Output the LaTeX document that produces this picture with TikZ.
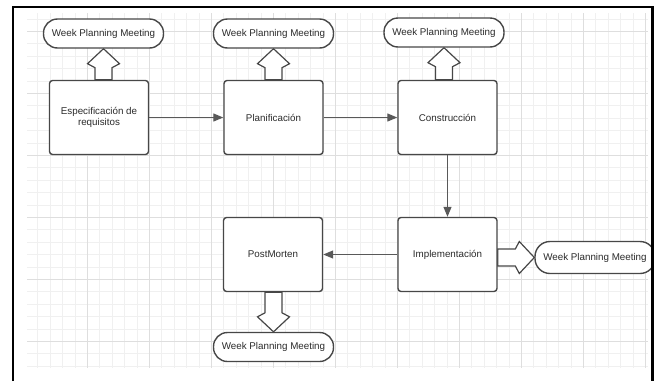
\documentclass[tikz,border=0pt]{standalone}
\usepackage{fontspec}
\setmainfont{Liberation Sans}
\usetikzlibrary{arrows.meta,backgrounds,calc}
\definecolor{boxline}{HTML}{474747}
\definecolor{ink}{HTML}{2B2B2B}
\definecolor{flowline}{HTML}{595959}
\definecolor{gridminor}{HTML}{F0F0F0}
\definecolor{gridmajor}{HTML}{DEDEDE}
\tikzset{
  % ---- phases ----------------------------------------------------
  phase/.style      = {rectangle, rounded corners=3pt, draw=boxline,
                       line width=1.4pt, fill=white, minimum width=99pt,
                       minimum height=74pt, inner sep=2pt, align=center,
                       text=ink, font=\fontsize{9.8}{11}\selectfont},
  meeting/.style    = {rectangle, rounded corners=14pt, draw=boxline,
                       line width=1.4pt, fill=white, minimum width=120pt,
                       minimum height=29pt, inner sep=0pt, text=ink,
                       font=\fontsize{9.8}{11}\selectfont},
  % ---- connectors ------------------------------------------------
  flow/.style       = {draw=flowline, line width=1.2pt,
                       -{Triangle[length=10pt,width=8pt]}},
  fat/.style        = {draw=boxline, line width=1.2pt, fill=white,
                       line join=miter},
  % ---- paper -----------------------------------------------------
  gminor/.style     = {draw=gridminor, line width=.7pt},
  gmajor/.style     = {draw=gridmajor, line width=.8pt},
  frame/.style      = {draw=black, line width=2.6pt, line join=miter},
}

\begin{document}
\begin{tikzpicture}[x=1pt,y=-1pt]
  \useasboundingbox (0,0) rectangle (654,381);
  \begin{scope}[on background layer]
    \clip (27,13) rectangle (648,368);
    \foreach \x in {37.7,50.1,...,648} \draw[gminor] (\x,13) -- (\x,368);
    \foreach \y in {18.9,31.3,...,368} \draw[gminor] (27,\y) -- (648,\y);
    \foreach \x in {87.3,149.3,...,648} \draw[gmajor] (\x,13) -- (\x,368);
    \foreach \y in {31.3,93.3,...,368} \draw[gmajor] (27,\y) -- (648,\y);
  \end{scope}
  \node[phase] (req) at (99,117.5) {Especificación de\\requisitos};
  \node[phase] (plan) at (273.5,117.5) {Planificación};
  \node[phase] (cons) at (447.5,117.5) {Construcción};
  \node[phase] (impl) at (447.5,254.5) {Implementación};
  \node[phase] (post) at (273,254.5) {PostMorten};
  \node[meeting] (wreq) at (103.5,33.5) {Week Planning Meeting};
  \node[meeting] (wplan) at (273.5,33.5) {Week Planning Meeting};
  \node[meeting] (wcons) at (444,32.5) {Week Planning Meeting};
  \node[meeting, minimum height=32pt, rounded corners=15pt] (wimpl) at (595,257.5) {Week Planning Meeting};
  \node[meeting] (wpost) at (273.5,347) {Week Planning Meeting};
  \draw[flow] (req) -- (plan);
  \draw[flow] (plan) -- (cons);
  \draw[flow] (cons) -- (impl);
  \draw[flow] (impl) -- (post);
  \begin{scope}[on background layer]
    \draw[fat] (wreq.south) -- ++(-16,15) -- ++(7.5,4) -- ($(req.north -| wreq.south)+(-8.5,0)$)
      -- ++(17,0) -- ($(wreq.south)+(8.5,19)$) -- ++(7.5,-4) -- cycle;
    \draw[fat] (wplan.south) -- ++(-16,15) -- ++(7.5,4) -- ($(plan.north -| wplan.south)+(-8.5,0)$)
      -- ++(17,0) -- ($(wplan.south)+(8.5,19)$) -- ++(7.5,-4) -- cycle;
    \draw[fat] (wcons.south) -- ++(-16,15) -- ++(7.5,4) -- ($(cons.north -| wcons.south)+(-8.5,0)$)
      -- ++(17,0) -- ($(wcons.south)+(8.5,19)$) -- ++(7.5,-4) -- cycle;
    \draw[fat] (wimpl.west) -- ++(-15,-16) -- ++(-4,7.5) -- ($(impl.east |- wimpl.west)+(0,-8.5)$)
      -- ++(0,17) -- ($(wimpl.west)+(-19,8.5)$) -- ++(4,7.5) -- cycle;
    \draw[fat] (wpost.north) -- ++(-16,-15) -- ++(7.5,-4) -- ($(post.south -| wpost.north)+(-8.5,0)$)
      -- ++(17,0) -- ($(wpost.north)+(8.5,-19)$) -- ++(7.5,4) -- cycle;
  \end{scope}
  \draw[frame] (13,381) -- (13,7) -- (652.5,7) -- (652.5,381);
\end{tikzpicture}
\end{document}
